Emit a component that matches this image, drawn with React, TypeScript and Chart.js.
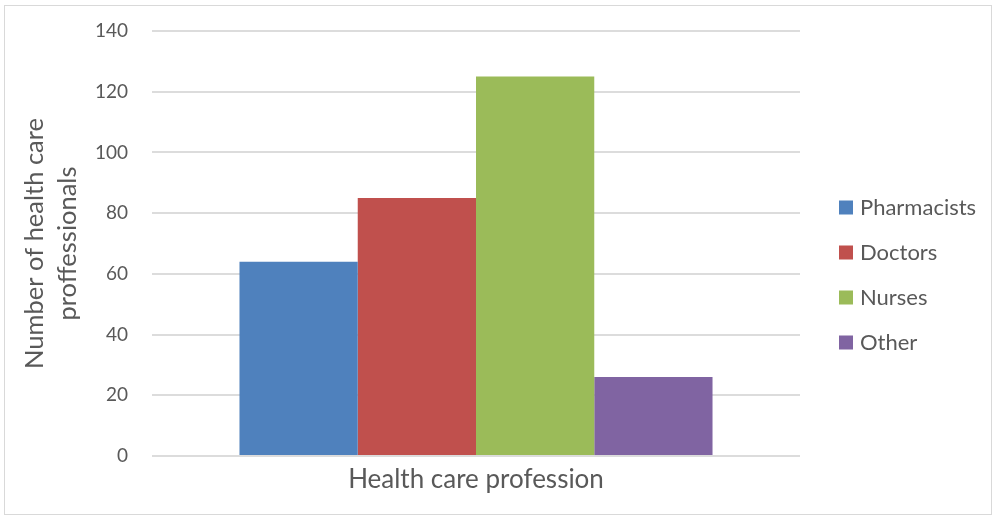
import React, { useEffect, useRef } from "react";
import { Chart, registerables } from "chart.js";

Chart.register(...registerables);

// Data
const categories = [""];
const seriesNames = ["Pharmacists", "Doctors", "Nurses", "Other"];
const seriesValues = [64, 85, 125, 26];
const seriesColors = ["#4F81BD", "#C0504D", "#9BBB59", "#8064A2"];
const yMin = 0;
const yMax = 140;
const yStep = 20;
const xTitle = "Health care profession";
const yTitle = ["Number of health care", "proffessionals"];

const TEXT = "#595959";
const FONT = "Lato, 'Open Sans', sans-serif";

const W = 996;
const H = 517;
const PLOT_LEFT = 152;
const PLOT_TOP = 31;
const PLOT_BOTTOM = 456;

// Legend drawn at the right of the plot area, one row per dataset
const sideLegend = {
  id: "sideLegend",
  afterDraw(chart: any) {
    const { ctx, chartArea } = chart;
    ctx.save();
    ctx.font = `22px ${FONT}`;
    ctx.textBaseline = "alphabetic";
    ctx.textAlign = "left";
    const firstRow = (chartArea.top + chartArea.bottom) / 2 - 36;
    chart.data.datasets.forEach((ds: any, i: number) => {
      const cy = firstRow + i * 45;
      const x = chartArea.right + 39;
      ctx.fillStyle = ds.backgroundColor;
      ctx.fillRect(x, cy - 7, 14, 14);
      ctx.fillStyle = TEXT;
      ctx.fillText(ds.label, x + 21, cy + 7.5);
    });
    ctx.restore();
  },
};

export default function App() {
  const ref = useRef<HTMLCanvasElement | null>(null);

  useEffect(() => {
    if (!ref.current) return;
    const chart = new Chart(ref.current, {
      type: "bar",
      data: {
        labels: categories,
        datasets: seriesNames.map((name, i) => ({
          label: name,
          data: [seriesValues[i]],
          backgroundColor: seriesColors[i],
          borderWidth: 0,
          barPercentage: 1,
          categoryPercentage: 0.73,
        })),
      },
      options: {
        animation: false,
        responsive: false,
        maintainAspectRatio: false,
        layout: { padding: { left: 8, top: PLOT_TOP, right: 196, bottom: 20 } },
        plugins: {
          legend: { display: false },
          tooltip: { enabled: false },
        },
        scales: {
          x: {
            grid: { display: false },
            border: { display: false },
            ticks: { display: false },
            title: {
              display: true,
              text: xTitle,
              color: TEXT,
              font: { family: FONT, size: 26, lineHeight: 1.2 },
              padding: { top: 0, bottom: 2 },
            },
            afterFit: (s: any) => {
              s.height = H - 20 - PLOT_BOTTOM;
              s.paddingLeft = 0;
              s.paddingRight = 0;
            },
          },
          y: {
            min: yMin,
            max: yMax,
            ticks: {
              stepSize: yStep,
              color: TEXT,
              padding: 24,
              font: { family: FONT, size: 19 },
            },
            grid: { color: "#dcdcdc", lineWidth: 2, drawTicks: false },
            border: { display: false },
            title: {
              display: true,
              text: yTitle,
              color: TEXT,
              font: { family: FONT, size: 25.5, lineHeight: 1.3 },
              padding: { top: 10, bottom: 0 },
            },
            afterFit: (s: any) => {
              s.width = PLOT_LEFT - 8;
              s.paddingTop = 0;
              s.paddingBottom = 0;
            },
          },
        },
      },
      plugins: [sideLegend],
    });
    return () => chart.destroy();
  }, []);

  return (
    <div
      style={{
        position: "fixed",
        left: 0,
        top: 0,
        width: W,
        height: H,
        background: "#ffffff",
      }}
    >
      <canvas ref={ref} width={W} height={H} style={{ width: W, height: H, display: "block" }} />
      <div
        style={{
          position: "absolute",
          left: 4,
          top: 5,
          width: 988,
          height: 510,
          border: "1px solid #d9d9d9",
          boxSizing: "border-box",
          pointerEvents: "none",
        }}
      />
    </div>
  );
}
